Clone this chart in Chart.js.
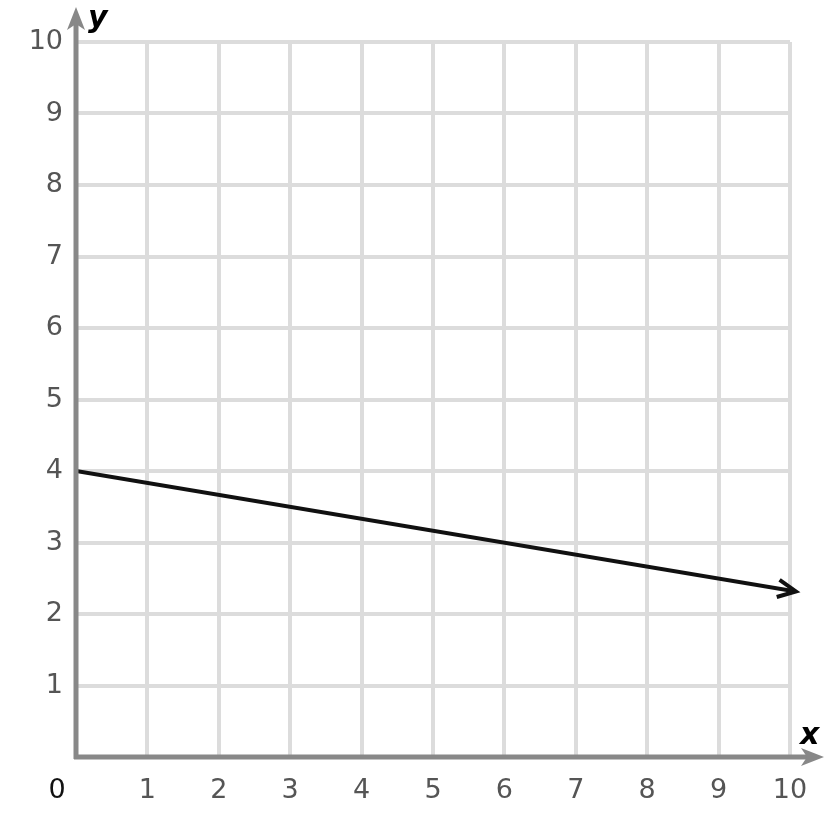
<!DOCTYPE html>
<html>
<head>
<meta charset="utf-8">
<script src="https://cdn.jsdelivr.net/npm/chart.js@4"></script>
<style>
  html, body { margin: 0; padding: 0; background: #fff; }
  #wrap { width: 826px; height: 829px; }
</style>
</head>
<body>
<div id="wrap"><canvas id="graph" width="826" height="829"></canvas></div>
<script>
const lineX = [0, 10];
const lineY = [4, 2.33];
const tickValues = [0, 1, 2, 3, 4, 5, 6, 7, 8, 9, 10];

const FONT = "'DejaVu Sans', Verdana, sans-serif";

// axes with arrows, axis names and the shared 0 label
const axesPlugin = {
    id: "axes",
    afterDatasetsDraw(chart) {
        const ctx = chart.ctx;
        const xs = chart.scales.x, ys = chart.scales.y;
        const ox = xs.getPixelForValue(0), oy = ys.getPixelForValue(0);
        ctx.save();
        ctx.strokeStyle = "#888";
        ctx.fillStyle = "#888";
        ctx.lineWidth = 5;
        ctx.lineCap = "butt";
        ctx.beginPath();
        ctx.moveTo(ox, oy + 2);
        ctx.lineTo(ox, 18);
        ctx.moveTo(ox - 2, oy);
        ctx.lineTo(812, oy);
        ctx.stroke();
        // y arrow
        ctx.beginPath();
        ctx.moveTo(ox, 7);
        ctx.lineTo(ox - 9, 30);
        ctx.lineTo(ox, 24);
        ctx.lineTo(ox + 9, 30);
        ctx.closePath();
        ctx.fill();
        // x arrow
        ctx.beginPath();
        ctx.moveTo(824, oy);
        ctx.lineTo(801, oy - 9);
        ctx.lineTo(807, oy);
        ctx.lineTo(801, oy + 9);
        ctx.closePath();
        ctx.fill();

        // arrow on the data line
        const meta = chart.getDatasetMeta(0).data;
        const a = meta[meta.length - 2], b = meta[meta.length - 1];
        const ang = Math.atan2(b.y - a.y, b.x - a.x);
        const tx = b.x + 6 * Math.cos(ang), ty = b.y + 6 * Math.sin(ang);
        ctx.strokeStyle = "#111";
        ctx.lineWidth = 4;
        ctx.lineJoin = "miter";
        ctx.beginPath();
        ctx.moveTo(tx - 20 * Math.cos(ang - 0.45), ty - 20 * Math.sin(ang - 0.45));
        ctx.lineTo(tx, ty);
        ctx.lineTo(tx - 20 * Math.cos(ang + 0.45), ty - 20 * Math.sin(ang + 0.45));
        ctx.stroke();
        ctx.beginPath();
        ctx.moveTo(b.x - 2, b.y);
        ctx.lineTo(tx - 3 * Math.cos(ang), ty - 3 * Math.sin(ang));
        ctx.stroke();

        ctx.fillStyle = "#000";
        ctx.font = "italic bold 30px " + FONT;
        ctx.textAlign = "left";
        ctx.textBaseline = "alphabetic";
        ctx.fillText("y", 88, 27);
        ctx.fillText("x", 800, 744);
        ctx.font = "27px " + FONT;
        ctx.fillStyle = "#111";
        ctx.textAlign = "center";
        ctx.textBaseline = "middle";
        ctx.fillText("0", 57, 791);
        ctx.restore();
    }
};

new Chart(document.getElementById("graph"), {
    type: "scatter",
    data: {
        datasets: [
            {
                data: lineX.map((x, i) => ({ x: x, y: lineY[i] })),
                showLine: true,
                borderColor: "#111",
                borderWidth: 4,
                pointRadius: 0,
                fill: false,
            },
        ],
    },
    options: {
        responsive: false,
        animation: false,
        layout: { padding: { top: 42, right: 36, left: 0, bottom: 0 } },
        plugins: {
            legend: { display: false },
            tooltip: { enabled: false },
        },
        scales: {
            x: {
                type: "linear",
                min: 0,
                max: 10,
                afterFit(scale) { scale.height = 72; },
                afterBuildTicks(scale) { scale.ticks = tickValues.map(v => ({ value: v })); },
                border: { display: false },
                grid: { color: "#dcdcdc", lineWidth: 4, drawTicks: false },
                ticks: {
                    padding: 18,
                    color: "#555",
                    font: { family: FONT, size: 27 },
                    callback: v => (v === 0 ? "" : String(v)),
                },
            },
            y: {
                type: "linear",
                min: 0,
                max: 10,
                afterFit(scale) { scale.width = 76; },
                afterBuildTicks(scale) { scale.ticks = tickValues.map(v => ({ value: v })); },
                border: { display: false },
                grid: { color: "#dcdcdc", lineWidth: 4, drawTicks: false },
                ticks: {
                    padding: 13,
                    color: "#555",
                    font: { family: FONT, size: 27 },
                    callback: v => (v === 0 ? "" : String(v)),
                },
            },
        },
    },
    plugins: [axesPlugin],
});
</script>
</body>
</html>
